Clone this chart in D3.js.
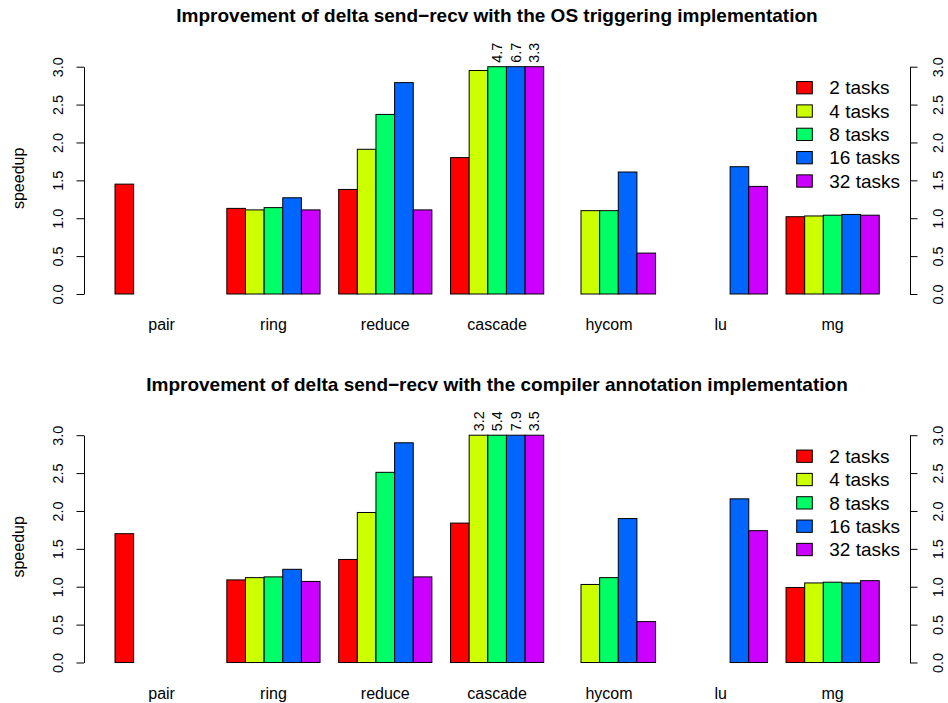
<!DOCTYPE html>
<html>
<head>
<meta charset="utf-8">
<script src="https://cdn.jsdelivr.net/npm/d3@7/dist/d3.min.js"></script>
<style>
  html, body { margin: 0; padding: 0; background: #ffffff; }
  svg { display: block; font-family: "Liberation Sans", Arial, sans-serif; }
</style>
</head>
<body>
<svg id="chart" width="948" height="703"></svg>
<script>
// Benchmarks and task counts
const categories = ["pair", "ring", "reduce", "cascade", "hycom", "lu", "mg"];
const series = ["2 tasks", "4 tasks", "8 tasks", "16 tasks", "32 tasks"];
const seriesColors = ["#FF0000", "#CCFF00", "#00FF66", "#0066FF", "#CC00FF"];
const yTicks = [0, 0.5, 1.0, 1.5, 2.0, 2.5, 3.0];
const yMax = 3;

// Speedup, OS triggering implementation (one array per task count, null = not run)
const os2  = [1.45, 1.13, 1.38, 1.80, null, null, 1.02];
const os4  = [null, 1.11, 1.91, 2.95, 1.10, null, 1.03];
const os8  = [null, 1.14, 2.37, 4.7,  1.10, null, 1.04];
const os16 = [null, 1.27, 2.79, 6.7,  1.61, 1.68, 1.05];
const os32 = [null, 1.11, 1.11, 3.3,  0.54, 1.42, 1.04];

// Speedup, compiler annotation implementation
const ca2  = [1.70, 1.09, 1.36, 1.84, null, null, 0.99];
const ca4  = [null, 1.12, 1.98, 3.2,  1.03, null, 1.05];
const ca8  = [null, 1.13, 2.51, 5.4,  1.12, null, 1.06];
const ca16 = [null, 1.23, 2.90, 7.9,  1.90, 2.16, 1.05];
const ca32 = [null, 1.07, 1.13, 3.5,  0.54, 1.74, 1.08];

const titles = [
  "Improvement of delta send\u2212recv with the OS triggering implementation",
  "Improvement of delta send\u2212recv with the compiler annotation implementation"
];

const panels = [
  { title: titles[0], values: [os2, os4, os8, os16, os32], offset: 0 },
  { title: titles[1], values: [ca2, ca4, ca8, ca16, ca32], offset: 368.5 }
];

const svg = d3.select("#chart");
svg.append("rect").attr("width", 948).attr("height", 703).attr("fill", "#fff");

// Shared horizontal layout: groups of five bars separated by one bar-width gap
const barUnit = 18.64;
const xFirst = 115;
const xg = d3.scaleBand()
  .domain(categories)
  .range([xFirst, xFirst + 41 * barUnit])
  .paddingInner(1 / 6)
  .paddingOuter(0);
const xs = d3.scaleBand().domain(series).range([0, xg.bandwidth()]).padding(0);

const plotLeft = 84, plotRight = 910;
const fmt = d3.format(".1f");

function rotateTickText(axisG, dx) {
  axisG.selectAll(".tick text")
    .attr("x", null)
    .attr("y", null)
    .attr("dy", "0.35em")
    .attr("text-anchor", "middle")
    .attr("transform", `translate(${dx},0) rotate(-90)`)
    .style("font-size", "14.4px")
    .attr("fill", "#000");
  axisG.selectAll("line, path").attr("stroke", "#000");
  axisG.attr("font-family", null).attr("font-size", null);
}

panels.forEach(p => {
  const g = svg.append("g").attr("transform", `translate(0,${p.offset})`);
  const y = d3.scaleLinear().domain([0, yMax]).range([294, 66.7]).clamp(true);

  // Title
  g.append("text")
    .attr("x", (plotLeft + plotRight) / 2)
    .attr("y", 22)
    .attr("text-anchor", "middle")
    .style("font-size", "19px")
    .style("font-weight", "bold")
    .text(p.title);

  // Bars
  const rows = [];
  p.values.forEach((arr, si) => {
    arr.forEach((v, ci) => {
      if (v !== null) rows.push({ cat: categories[ci], ser: series[si], si, v });
    });
  });

  g.append("g").selectAll("rect")
    .data(rows)
    .join("rect")
    .attr("x", d => xg(d.cat) + xs(d.ser))
    .attr("width", xs.bandwidth())
    .attr("y", d => y(d.v))
    .attr("height", d => y(0) - y(d.v))
    .attr("fill", d => seriesColors[d.si])
    .attr("stroke", "#000")
    .attr("stroke-width", 1);

  // Values beyond the axis range are written above the clipped bars
  g.append("g").selectAll("text")
    .data(rows.filter(d => d.v > yMax))
    .join("text")
    .attr("transform", d => `translate(${xg(d.cat) + xs(d.ser) + xs.bandwidth() / 2},${y(yMax) - 4}) rotate(-90)`)
    .attr("dy", "0.35em")
    .attr("text-anchor", "start")
    .style("font-size", "14.4px")
    .text(d => fmt(d.v));

  // Category names
  g.append("g").selectAll("text")
    .data(categories)
    .join("text")
    .attr("x", d => xg(d) + xg.bandwidth() / 2)
    .attr("y", y(0) + 36)
    .attr("text-anchor", "middle")
    .style("font-size", "16px")
    .text(d => d);

  // Left and right axes
  const left = g.append("g").attr("transform", `translate(${plotLeft},0)`)
    .call(d3.axisLeft(y).tickValues(yTicks).tickFormat(fmt).tickSize(7.5).tickSizeOuter(0));
  rotateTickText(left, -26);

  const right = g.append("g").attr("transform", `translate(${plotRight},0)`)
    .call(d3.axisRight(y).tickValues(yTicks).tickFormat(fmt).tickSize(7.5).tickSizeOuter(0));
  rotateTickText(right, 27.5);

  // Y axis label
  g.append("text")
    .attr("transform", `translate(18,${(y(0) + y(yMax)) / 2 - 2}) rotate(-90)`)
    .attr("dy", "0.35em")
    .attr("text-anchor", "middle")
    .style("font-size", "16px")
    .text("speedup");

  // Legend
  const leg = g.append("g").selectAll("g")
    .data(series)
    .join("g")
    .attr("transform", (d, i) => `translate(796.7,${87.7 + i * 23.33})`);
  leg.append("rect")
    .attr("x", 0).attr("y", -6.15)
    .attr("width", 15.6).attr("height", 12.3)
    .attr("fill", (d, i) => seriesColors[i])
    .attr("stroke", "#000");
  leg.append("text")
    .attr("x", 32.6)
    .attr("dy", "0.35em")
    .style("font-size", "19px")
    .text(d => d);
});
</script>
</body>
</html>
